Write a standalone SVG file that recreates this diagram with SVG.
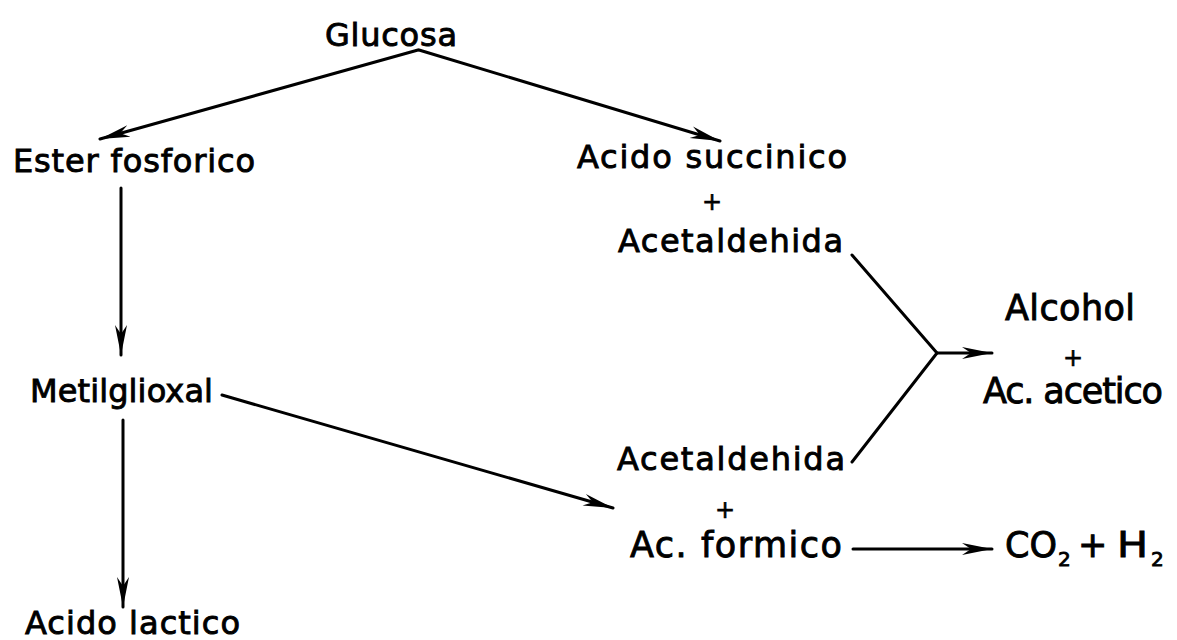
<svg xmlns="http://www.w3.org/2000/svg" width="1177" height="640" viewBox="0 0 1177 640">
  <defs>
    <style>
      .lbl { font-family: "DejaVu Sans", "Liberation Sans", sans-serif; font-size: 32px; fill: #000; stroke: #000; stroke-width: 0.9px; }
      .big { font-size: 35px; }
      .plus { font-family: "DejaVu Sans", "Liberation Sans", sans-serif; font-size: 24px; fill: #000; stroke: #000; stroke-width: 0.6px; text-anchor: middle; }
      .sub { font-size: 20px; }
      .link { fill: none; stroke: #000; stroke-width: 3; stroke-linecap: round; stroke-linejoin: round; }
      .arrow { marker-end: url(#head); }
    </style>
    <!-- slim hand-drawn style arrowhead -->
    <marker id="head" markerUnits="userSpaceOnUse" viewBox="0 0 30 14" markerWidth="30" markerHeight="14" refX="30" refY="7" orient="auto">
      <path d="M0,1 L30,7 L0,13 L9,7 Z" fill="#000"/>
    </marker>
  </defs>

  <rect width="1177" height="640" fill="#fff"/>

  <g id="connectors">
    <path class="link arrow" d="M418,50 L100,139"/>
    <path class="link arrow" d="M419,50 L720,141"/>
    <path class="link arrow" d="M121,188 L121,355"/>
    <path class="link arrow" d="M123,420 L123,607"/>
    <path class="link arrow" d="M222,395 L613,508"/>
    <path class="link" d="M852,255 L937,353 L852,462"/>
    <path class="link arrow" d="M937,353 L992,353"/>
    <path class="link arrow" d="M853,549 L992,549"/>
  </g>

  <g id="node-glucosa">
    <text class="lbl" x="325" y="46" textLength="132" lengthAdjust="spacing">Glucosa</text>
  </g>

  <g id="node-ester-fosforico">
    <text class="lbl" x="13" y="172" textLength="242" lengthAdjust="spacing">Ester fosforico</text>
  </g>

  <g id="node-succinico-acetaldehida">
    <text class="lbl" x="577" y="168" textLength="270" lengthAdjust="spacing">Acido succinico</text>
    <text class="plus" x="712" y="210">+</text>
    <text class="lbl" x="618" y="252" textLength="225" lengthAdjust="spacing">Acetaldehida</text>
  </g>

  <g id="node-metilglioxal">
    <text class="lbl" x="30" y="402" textLength="183" lengthAdjust="spacing">Metilglioxal</text>
  </g>

  <g id="node-alcohol-acetico">
    <text class="lbl big" x="1005" y="320" textLength="130" lengthAdjust="spacing">Alcohol</text>
    <text class="plus" x="1073" y="366">+</text>
    <text class="lbl big" x="983" y="403" textLength="180" lengthAdjust="spacing">Ac. acetico</text>
  </g>

  <g id="node-acetaldehida-formico">
    <text class="lbl" x="617" y="470" textLength="228" lengthAdjust="spacing">Acetaldehida</text>
    <text class="plus" x="725" y="518">+</text>
    <text class="lbl big" x="630" y="557" textLength="212" lengthAdjust="spacing">Ac. formico</text>
  </g>

  <g id="node-co2-h2">
    <text class="lbl big" y="557"><tspan x="1005">CO</tspan><tspan class="sub" x="1058" dy="9">2</tspan><tspan x="1078" dy="-9">+</tspan><tspan x="1117" textLength="31" lengthAdjust="spacingAndGlyphs">H</tspan><tspan class="sub" x="1151" dy="9">2</tspan></text>
  </g>

  <g id="node-acido-lactico">
    <text class="lbl" x="25" y="634" textLength="215" lengthAdjust="spacing">Acido lactico</text>
  </g>
</svg>
